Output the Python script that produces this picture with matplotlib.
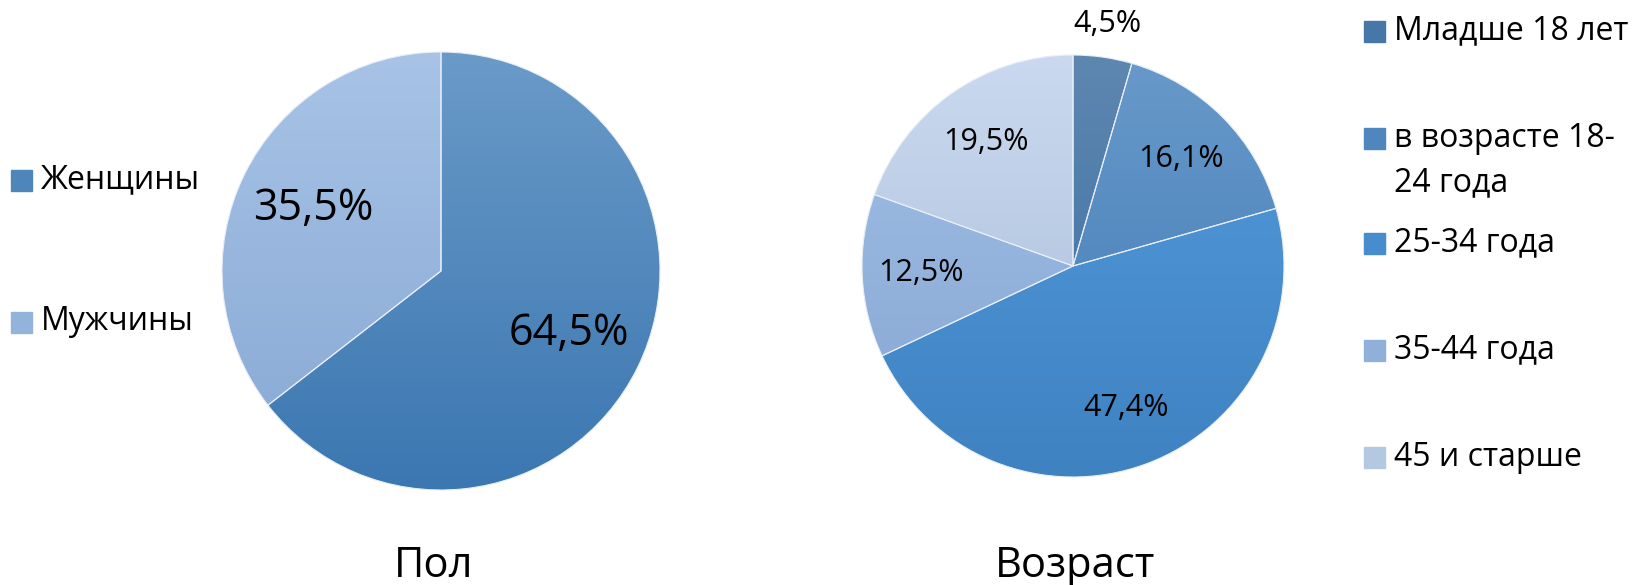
import numpy as np
import matplotlib
matplotlib.use("Agg")
import matplotlib.pyplot as plt
from matplotlib.colors import LinearSegmentedColormap
from matplotlib.patches import Rectangle

plt.rcParams['font.family'] = ['Open Sans', 'DejaVu Sans']

### Data
gender_labels = ["Женщины", "Мужчины"]
gender_values = [64.5, 35.5]
gender_top = ["#6a9ac8", "#a8c3e6"]
gender_bottom = ["#3b77b1", "#86a8d4"]

age_labels = ["Младше 18 лет", "в возрасте 18-\n24 года", "25-34 года", "35-44 года", "45 и старше"]
age_values = [4.5, 16.1, 47.4, 12.5, 19.5]
age_top = ["#5e87b0", "#6999ca", "#559bdb", "#a3c1e7", "#cad9ef"]
age_bottom = ["#386ca3", "#3d7ab5", "#3e82c2", "#84a5d2", "#a7bcd8"]

W, H = 1639, 585

def fx(x):
    return x / W

def fy(y):
    return 1 - y / H


def gradient_pie(cx, cy, r, values, tops, bottoms, fs, dist, out_dist, title, title_x):
    """ Pie with vertical gradient in every wedge, clockwise from 12 o'clock """
    ax = plt.gcf().add_axes([fx(cx - r), fy(cy + r), 2 * r / W, 2 * r / H])
    wedges, _ = ax.pie(values, startangle=90, counterclock=False,
                       wedgeprops=dict(facecolor="none", edgecolor="#e8eef6", linewidth=0.8))
    grad = np.linspace(0, 1, 256).reshape(-1, 1)
    for w, c0, c1 in zip(wedges, tops, bottoms):
        w.set_zorder(3)
        cmap = LinearSegmentedColormap.from_list("g", [c0, c1])
        im = ax.imshow(grad, extent=(-1, 1, -1, 1), origin="upper", cmap=cmap,
                       aspect="auto", zorder=2)
        im.set_clip_path(w)

    # percentage labels at the middle of each wedge
    for w, v in zip(wedges, values):
        ang = np.deg2rad((w.theta1 + w.theta2) / 2)
        d = out_dist if v < 5 else dist
        ax.text(d * np.cos(ang), d * np.sin(ang), f"{v:.1f}%".replace(".", ","),
                ha="center", va="center", fontsize=fs, zorder=4, clip_on=False)

    ax.set_xlim(-1, 1)
    ax.set_ylim(-1, 1)
    ax.set_axis_off()
    plt.gcf().text(fx(title_x), fy(566), title, ha="center", va="center", fontsize=30)
    return ax


def draw_legend(x, rows, labels, tops, bottoms, fs, line_h=45, sq=21):
    fig = plt.gcf()
    for y, lab, c0, c1 in zip(rows, labels, tops, bottoms):
        cmap = LinearSegmentedColormap.from_list("g", [c0, c1])
        fig.patches.append(Rectangle((fx(x), fy(y + sq / 2)), sq / W, sq / H,
                                     transform=fig.transFigure, color=cmap(0.6)))
        for i, line in enumerate(lab.split("\n")):
            fig.text(fx(x + sq + 9), fy(y + i * line_h), line, ha="left", va="center",
                     fontsize=fs)


fig = plt.figure(figsize=(W / 100, H / 100), dpi=100)

gradient_pie(441, 271, 219, gender_values, gender_top, gender_bottom,
             fs=31, dist=0.65, out_dist=1.16, title="Пол", title_x=434)
gradient_pie(1073, 266, 211, age_values, age_top, age_bottom,
             fs=22, dist=0.72, out_dist=1.16, title="Возраст", title_x=1075)

draw_legend(11, [180, 322], gender_labels, gender_top, gender_bottom, fs=23)
draw_legend(1364, [31, 138, 243, 350, 457], age_labels, age_top, age_bottom, fs=23)

plt.savefig("out.png", dpi=100)
